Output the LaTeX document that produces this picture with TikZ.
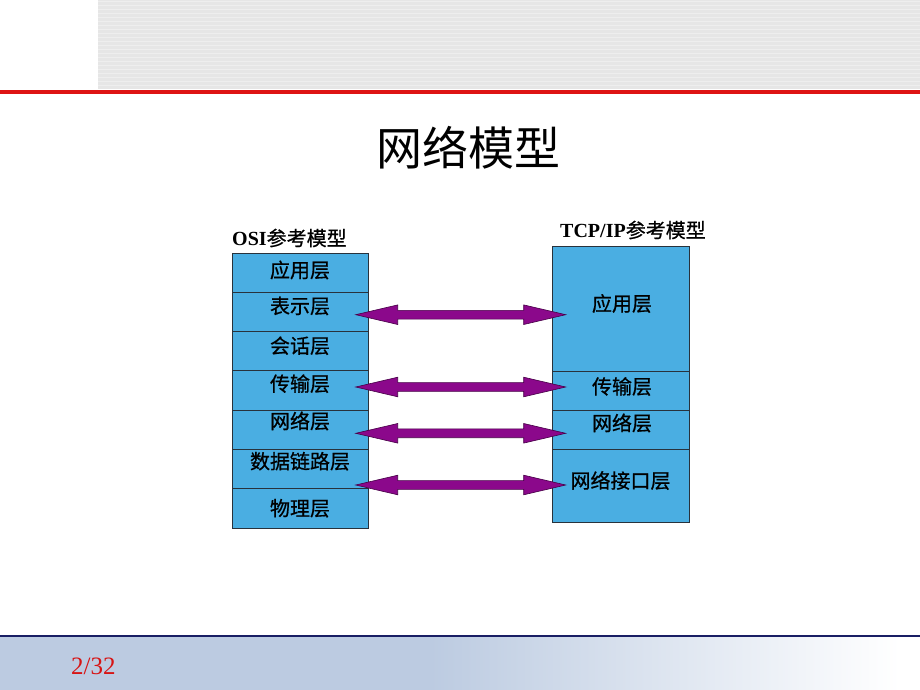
\documentclass[tikz,border=0pt]{standalone}
\usepackage{fontspec}
\setmainfont{Liberation Serif}
\newfontfamily\cjk{Noto Sans CJK SC}
\newfontfamily\cjkm{Noto Sans CJK SC}[BoldFont={Noto Sans CJK SC}, BoldFeatures={FakeBold=0.7}]
\usetikzlibrary{calc}
\definecolor{layerblue}{RGB}{74,174,226}
\definecolor{edgegray}{RGB}{40,50,60}
\definecolor{arrowpurple}{RGB}{139,8,139}
\definecolor{arrowedge}{RGB}{70,0,70}
\definecolor{bandgray}{RGB}{230,230,230}
\definecolor{stripegray}{RGB}{238,238,238}
\definecolor{topred}{RGB}{222,20,20}
\definecolor{navyline}{RGB}{25,30,100}
\definecolor{footblue}{RGB}{188,203,225}
\definecolor{pagered}{RGB}{215,20,20}
\tikzset{
  layerbox/.style={draw=edgegray, line width=0.9pt, fill=layerblue, inner sep=0pt, outer sep=0pt, anchor=north west},
  layertext/.style={font=\cjkm\fontsize{20}{20}\selectfont\bfseries, text=black, inner sep=0pt},
  headtext/.style={font=\fontsize{20}{20}\selectfont\bfseries, text=black, inner sep=0pt, anchor=west},
  dblarrow/.style={fill=arrowpurple, draw=arrowedge, line width=0.6pt, line join=miter}
}
\newcommand{\bigdblarrow}[2]{%
  \filldraw[dblarrow] (#1) -- ([shift={(42,-9.8)}]#1) -- ([shift={(42,-4.4)}]#1)
    -- ([shift={(-42,-4.4)}]#2) -- ([shift={(-42,-9.8)}]#2) -- (#2)
    -- ([shift={(-42,9.8)}]#2) -- ([shift={(-42,4.4)}]#2)
    -- ([shift={(42,4.4)}]#1) -- ([shift={(42,9.8)}]#1) -- cycle;}
\begin{document}
\begin{tikzpicture}[x=1pt,y=-1pt]
\useasboundingbox (0,0) rectangle (920,690);
\fill[white] (0,0) rectangle (920,690);
% top band
\fill[bandgray] (98,0) rectangle (920,89);
\foreach \yy in {2,6,...,86} \draw[stripegray, line width=1pt] (98,\yy) -- (920,\yy);
\fill[topred] (0,90.5) rectangle (920,93.8);
% bottom band
\fill[footblue] (0,637) rectangle (430,690);
\shade[left color=footblue, right color=white] (430,637) rectangle (900,690);
\fill[white] (900,637) rectangle (920,690);
\fill[navyline] (0,635.3) rectangle (920,637);
\node[font=\fontsize{25}{25}\selectfont, text=pagered, anchor=west, inner sep=0pt] (page) at (71,666) {2/32};
% title
\node[font=\cjk\fontsize{46}{46}\selectfont, inner sep=0pt] (title) at (468,148) {网络模型};
% headings
\node[headtext] (osih) at (232,238) {OSI{\cjkm 参考模型}};
\node[headtext] (tcph) at (560,230) {TCP/IP{\cjkm 参考模型}};
% OSI layers
\node[layerbox, minimum width=136, minimum height=39] (o1) at (232,253) {};
\node[layerbox, minimum width=136, minimum height=39] (o2) at (232,292) {};
\node[layerbox, minimum width=136, minimum height=39.5] (o3) at (232,331) {};
\node[layerbox, minimum width=136, minimum height=39.5] (o4) at (232,370.5) {};
\node[layerbox, minimum width=136, minimum height=39] (o5) at (232,410) {};
\node[layerbox, minimum width=136, minimum height=39.5] (o6) at (232,449) {};
\node[layerbox, minimum width=136, minimum height=39.5] (o7) at (232,488.5) {};
\node[layertext] (o1t) at ([yshift=2.5pt]o1.center) {应用层};
\node[layertext] (o2t) at ([yshift=5.5pt]o2.center) {表示层};
\node[layertext] (o3t) at ([yshift=5pt]o3.center) {会话层};
\node[layertext] (o4t) at ([yshift=6.5pt]o4.center) {传输层};
\node[layertext] (o5t) at ([yshift=8.5pt]o5.center) {网络层};
\node[layertext] (o6t) at ([yshift=7.5pt]o6.center) {数据链路层};
\node[layertext] (o7t) at ([yshift=0pt]o7.center) {物理层};
% TCP/IP layers
\node[layerbox, minimum width=137, minimum height=125] (t1) at (552,246) {};
\node[layerbox, minimum width=137, minimum height=39] (t2) at (552,371) {};
\node[layerbox, minimum width=137, minimum height=39] (t3) at (552,410) {};
\node[layerbox, minimum width=137, minimum height=73] (t4) at (552,449) {};
\node[layertext] (t1t) at ([xshift=1.5pt,yshift=5pt]t1.center) {应用层};
\node[layertext] (t2t) at ([xshift=1.5pt,yshift=4pt]t2.center) {传输层};
\node[layertext] (t3t) at ([xshift=1.5pt,yshift=6.5pt]t3.center) {网络层};
\node[layertext] (t4t) at ([xshift=0pt,yshift=5pt]t4.center) {网络接口层};
% arrow ends
\coordinate (a1l) at (355.7,314.7); \coordinate (a1r) at (565.7,314.7);
\coordinate (a2l) at (355.7,387);   \coordinate (a2r) at (565.7,387);
\coordinate (a3l) at (355.7,433.3); \coordinate (a3r) at (565.7,433.3);
\coordinate (a4l) at (355.7,485);   \coordinate (a4r) at (565.7,485);
\bigdblarrow{a1l}{a1r}
\bigdblarrow{a2l}{a2r}
\bigdblarrow{a3l}{a3r}
\bigdblarrow{a4l}{a4r}
\end{tikzpicture}
\end{document}
